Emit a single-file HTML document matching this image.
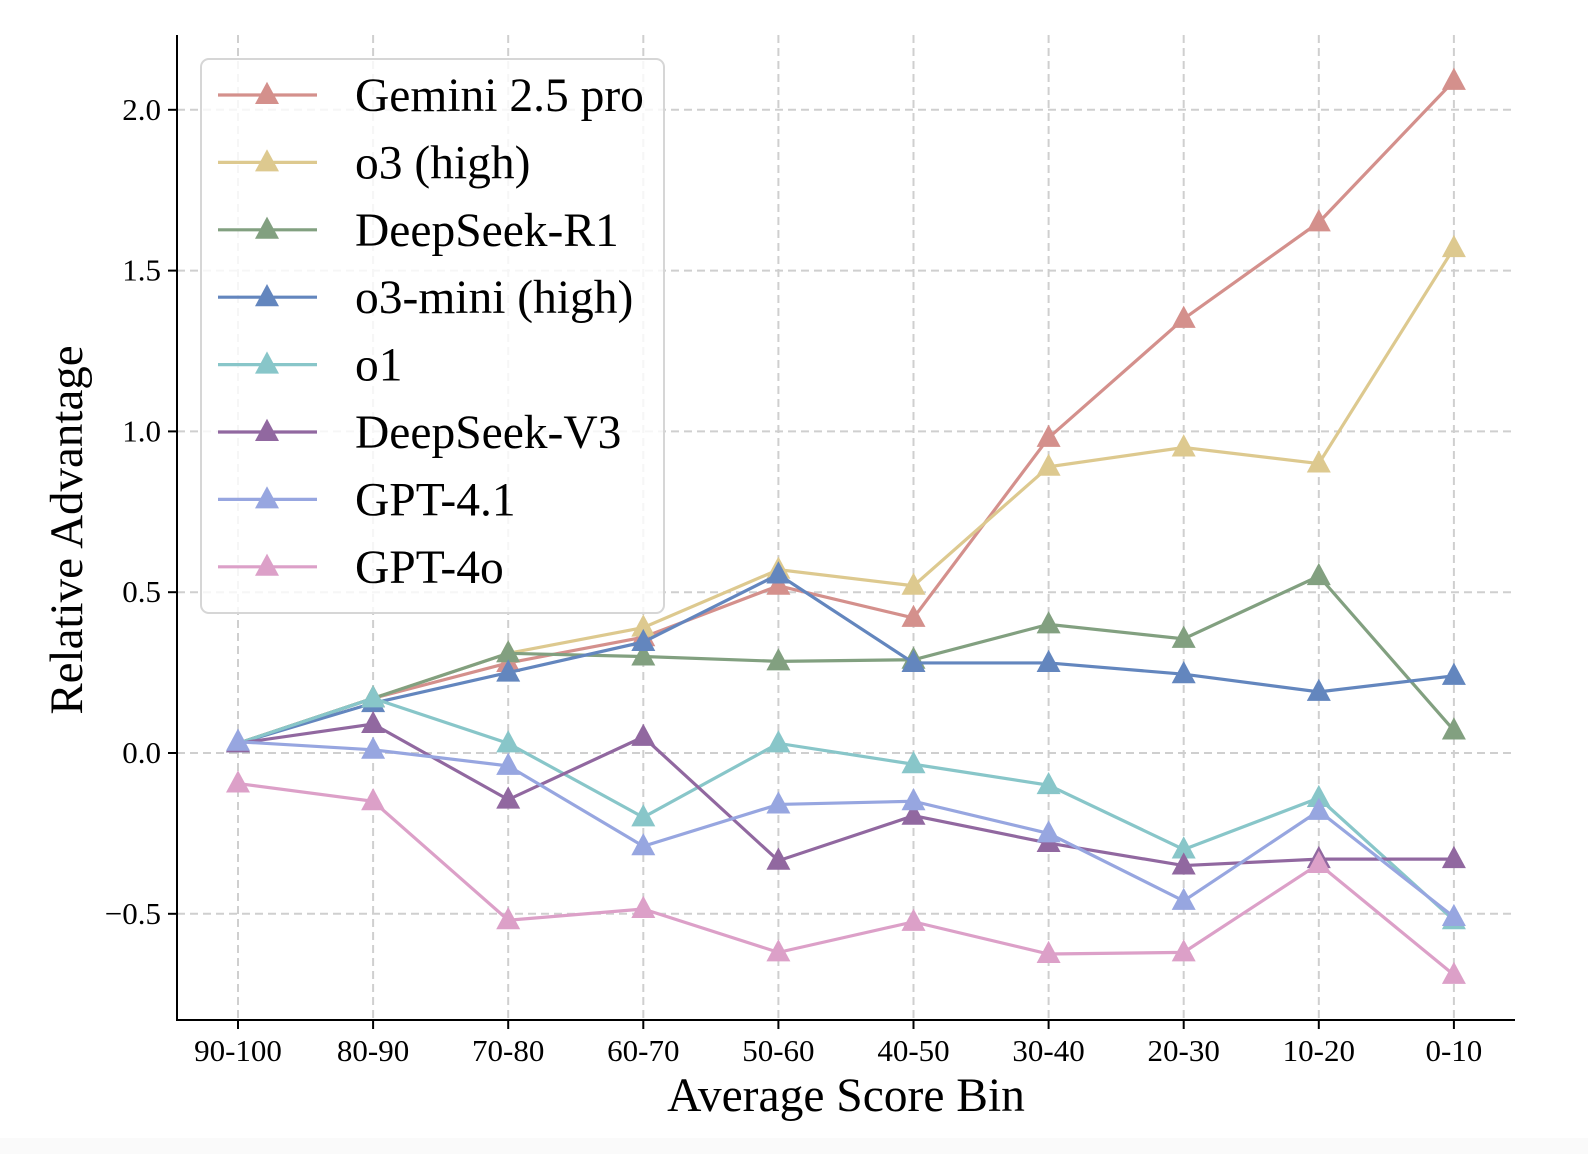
<!DOCTYPE html>
<html><head><meta charset="utf-8"><style>
html,body{margin:0;padding:0;background:#fff}
svg{display:block}
text{font-family:"Liberation Serif",serif;fill:#000}
</style></head><body>
<svg id="chart" width="1588" height="1154" xmlns="http://www.w3.org/2000/svg">
<rect x="0" y="1138" width="1588" height="16" fill="#fafafa"/>
<g id="grid"></g>
<g id="series"></g>
<g id="axes"></g>
<g id="legend"></g>
</svg>
<script>
const categories = ["90-100","80-90","70-80","60-70","50-60","40-50","30-40","20-30","10-20","0-10"];
const yTicks = [-0.5,0.0,0.5,1.0,1.5,2.0];
const yTickLabels = ["\u22120.5","0.0","0.5","1.0","1.5","2.0"];
const seriesNames = ["Gemini 2.5 pro","o3 (high)","DeepSeek-R1","o3-mini (high)","o1","DeepSeek-V3","GPT-4.1","GPT-4o"];
const seriesColors = ["#d4908c","#ddc98f","#82a080","#6386be","#88c6c9","#9168a0","#97a6e0","#dca0c8"];
const gemini = [0.03,0.17,0.28,0.36,0.52,0.42,0.98,1.35,1.65,2.09];
const o3high = [0.03,0.17,0.31,0.39,0.57,0.52,0.89,0.95,0.90,1.57];
const r1 = [0.03,0.17,0.31,0.30,0.285,0.29,0.40,0.355,0.55,0.07];
const o3mini = [0.03,0.155,0.25,0.345,0.555,0.28,0.28,0.245,0.19,0.24];
const o1 = [0.03,0.17,0.03,-0.20,0.03,-0.035,-0.10,-0.30,-0.14,-0.52];
const v3 = [0.03,0.09,-0.145,0.05,-0.335,-0.195,-0.28,-0.35,-0.33,-0.33];
const gpt41 = [0.035,0.01,-0.04,-0.29,-0.16,-0.15,-0.25,-0.46,-0.18,-0.51];
const gpt4o = [-0.095,-0.15,-0.52,-0.485,-0.62,-0.525,-0.625,-0.62,-0.345,-0.69];
const allSeries = [gemini,o3high,r1,o3mini,o1,v3,gpt41,gpt4o];

const NS="http://www.w3.org/2000/svg";
const L=177,R=1515,T=35,B=1020;
function xScale(i){return 238+i*135.1;}
function yScale(v){return 753-v*321.6;}
function mk(tag,attrs,parent){const e=document.createElementNS(NS,tag);for(const k in attrs)e.setAttribute(k,attrs[k]);parent.appendChild(e);return e;}
function tri(cx,cy,s){return `${cx},${cy-s*1.1} ${cx-s},${cy+s*0.75} ${cx+s},${cy+s*0.75}`;}

const grid=document.getElementById('grid'),axes=document.getElementById('axes'),ser=document.getElementById('series'),leg=document.getElementById('legend');
categories.forEach((c,i)=>{
  const x=xScale(i);
  const g=mk('line',{x1:x,x2:x,y1:T,y2:B,stroke:'#cfcfcf','stroke-width':2,'stroke-dasharray':'8,5'},grid);
  
  
  const t=mk('line',{x1:x,x2:x,y1:B,y2:B+9,stroke:'#000','stroke-width':2},axes);
  
  
  const lb=mk('text',{x:x,y:B+41,'text-anchor':'middle','font-size':31},axes);
  lb.textContent=c;
  
  
});
yTicks.forEach((v,i)=>{
  const y=yScale(v);
  const g=mk('line',{x1:L,x2:R,y1:y,y2:y,stroke:'#cfcfcf','stroke-width':2,'stroke-dasharray':'8,5'},grid);
  
  
  const t=mk('line',{x1:L-9,x2:L,y1:y,y2:y,stroke:'#000','stroke-width':2},axes);
  
  
  const lb=mk('text',{x:L-16,y:y+10,'text-anchor':'end','font-size':31},axes);
  lb.textContent=yTickLabels[i];
  
  
});
const sp=mk('path',{d:`M${L},${T} L${L},${B} L${R},${B}`,fill:'none',stroke:'#000','stroke-width':2},axes);


const xt=mk('text',{x:(L+R)/2,y:1111,'text-anchor':'middle','font-size':47.5},axes);
xt.textContent='Average Score Bin';


const yt=mk('text',{x:0,y:0,'text-anchor':'middle','font-size':47,transform:'translate(82,530) rotate(-90)'},axes);
yt.textContent='Relative Advantage';



allSeries.forEach((vals,si)=>{
  const g=mk('g',{},ser);
  
  
  const pts=vals.map((v,i)=>xScale(i)+','+yScale(v)).join(' ');
  const pl=mk('polyline',{points:pts,fill:'none',stroke:seriesColors[si],'stroke-width':3.2},g);
  
  
  vals.forEach((v,i)=>{
    const m=mk('polygon',{points:tri(xScale(i),yScale(v),12),fill:seriesColors[si]},g);
    
    
  });
});

const box=mk('rect',{x:201,y:59,width:463,height:554,rx:8,fill:'#fff','fill-opacity':0.8,stroke:'#d6d6d6','stroke-width':2},leg);


seriesNames.forEach((n,i)=>{
  const y=95+i*67.4;
  const g=mk('g',{},leg);
  
  
  mk('line',{x1:218,x2:317,y1:y,y2:y,stroke:seriesColors[i],'stroke-width':3.2},g);
  mk('polygon',{points:tri(267,y,12),fill:seriesColors[i]},g);
  const t=mk('text',{x:355,y:y+16,'font-size':47.5},g);
  t.textContent=n;
});
</script>
</body></html>
